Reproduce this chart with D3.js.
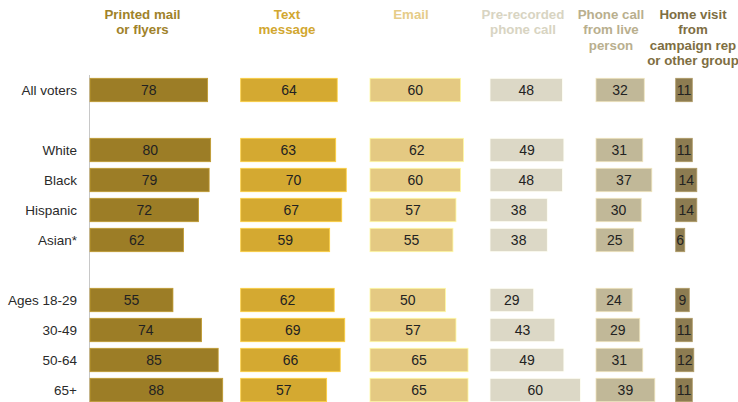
<!DOCTYPE html>
<html>
<head>
<meta charset="utf-8">
<script src="https://cdn.jsdelivr.net/npm/d3@7"></script>
<style>
  html, body { margin: 0; padding: 0; background: #fff; }
  svg { display: block; }
  text { font-family: "Liberation Sans", Arial, sans-serif; }
</style>
</head>
<body>
<div id="chart"></div>
<script>
// ---- data ----
const categories = ["All voters", "", "White", "Black", "Hispanic", "Asian*", " ", "Ages 18-29", "30-49", "50-64", "65+"];
const seriesNames = [
  ["Printed mail", "or flyers"],
  ["Text", "message"],
  ["Email"],
  ["Pre-recorded", "phone call"],
  ["Phone call", "from live", "person"],
  ["Home visit", "from", "campaign rep", "or other group"]
];
const printedMail = [78, null, 80, 79, 72, 62, null, 55, 74, 85, 88];
const textMessage = [64, null, 63, 70, 67, 59, null, 62, 69, 66, 57];
const email       = [60, null, 62, 60, 57, 55, null, 50, 57, 65, 65];
const preRecorded = [48, null, 49, 48, 38, 38, null, 29, 43, 49, 60];
const liveCall    = [32, null, 31, 37, 30, 25, null, 24, 29, 31, 39];
const homeVisit   = [11, null, 11, 14, 14, 6, null, 9, 11, 12, 11];
const seriesValues = [printedMail, textMessage, email, preRecorded, liveCall, homeVisit];

// ---- layout / style ----
const W = 738, H = 402;
const colStart = [90, 240.7, 370, 490, 596, 675.7];
const headCenter = [142.5, 287, 411, 523, 611, 693];
const barColors = ["#9c7d26", "#d4a931", "#e4c982", "#dcd8c6", "#c1b898", "#8d7c51"];
const headColors = ["#a0822a", "#d2a730", "#e6cc88", "#d8d4c2", "#b9af8e", "#7e6e42"];

const svg = d3.select("#chart").append("svg").attr("width", W).attr("height", H);

const x = d3.scaleLinear().domain([0, 100]).range([0, 150.8]);
const y = d3.scaleBand().domain(categories).range([75, 405]).paddingInner(0.22).paddingOuter(0.11);

// axis line
svg.append("line")
  .attr("x1", 89.5).attr("x2", 89.5)
  .attr("y1", 75).attr("y2", H)
  .attr("stroke", "#c8c8c8").attr("stroke-width", 1);

// row labels
svg.append("g").selectAll("text")
  .data(categories.filter(c => c.trim() !== ""))
  .join("text")
  .attr("x", 77)
  .attr("y", d => y(d) + y.bandwidth() / 2)
  .attr("dy", "0.35em")
  .attr("text-anchor", "end")
  .attr("font-size", 13.5)
  .attr("fill", "#2a2a2a")
  .text(d => d);

// headers
seriesNames.forEach((lines, i) => {
  const t = svg.append("text")
    .attr("text-anchor", "middle")
    .attr("font-size", 13.3)
    .attr("font-weight", "bold")
    .attr("fill", headColors[i]);
  lines.forEach((ln, j) => {
    t.append("tspan").attr("x", headCenter[i]).attr("y", 19 + j * 15.3).text(ln);
  });
});

// bars
seriesValues.forEach((vals, i) => {
  const rows = categories.map((c, k) => ({ c, v: vals[k] })).filter(d => d.v != null);
  const g = svg.append("g").attr("transform", `translate(${colStart[i]},0)`);
  g.selectAll("rect").data(rows).join("rect")
    .attr("x", 0)
    .attr("y", d => y(d.c))
    .attr("width", d => x(d.v))
    .attr("height", y.bandwidth())
    .attr("fill", barColors[i])
    .attr("stroke", d3.color(barColors[i]).brighter(0.6))
    .attr("stroke-width", 0.8);
  g.selectAll("text").data(rows).join("text")
    .attr("x", d => x(d.v) / 2)
    .attr("y", d => y(d.c) + y.bandwidth() / 2)
    .attr("dy", "0.36em")
    .attr("text-anchor", "middle")
    .attr("font-size", 14)
    .attr("fill", "#222")
    .text(d => d.v);
});
</script>
</body>
</html>
